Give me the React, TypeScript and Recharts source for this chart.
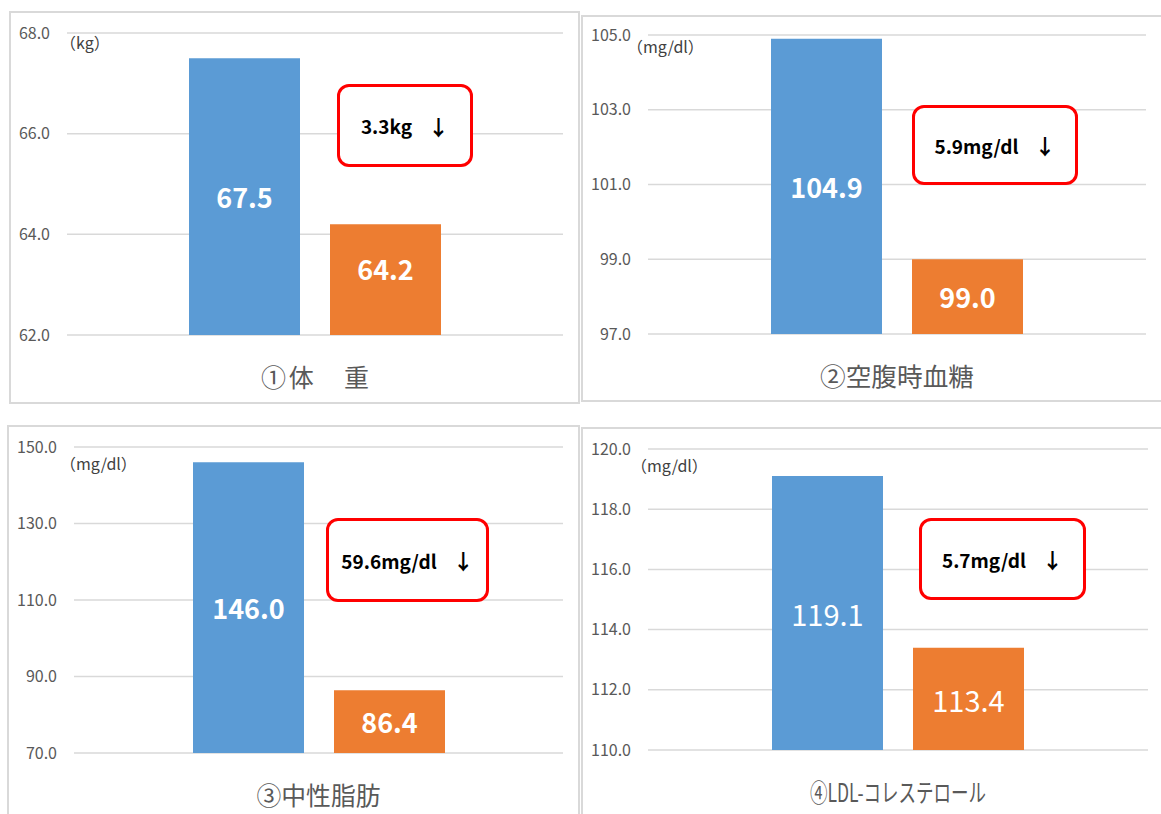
import { BarChart, Bar, XAxis, YAxis, CartesianGrid, LabelList } from 'recharts';

// values
const panelTitles = ['①体　重', '②空腹時血糖', '③中性脂肪', '④LDL-コレステロール'];
const beforeValues = [67.5, 104.9, 146.0, 119.1];
const afterValues = [64.2, 99.0, 86.4, 113.4];
const unitLabels = ['（kg）', '（mg/dl）', '（mg/dl）', '（mg/dl）'];
const changeLabels = ['3.3kg', '5.9mg/dl', '59.6mg/dl', '5.7mg/dl'];
const yTicks = [
  [62, 64, 66, 68],
  [97, 99, 101, 103, 105],
  [70, 90, 110, 130, 150],
  [110, 112, 114, 116, 118, 120],
];

const BLUE = '#5B9BD5';
const ORANGE = '#ED7D31';
const FONT = '"Noto Sans CJK JP", "Noto Sans", sans-serif';

// page layout (plot rectangles, frames, callout boxes)
const layout = [
  {
    plot: { l: 67, t: 33, r: 563, b: 335 },
    frame: { l: 9, t: 11, w: 571, h: 393 },
    box: { l: 337, t: 84, r: 473, b: 167 },
    unit: { l: 60, t: 30 },
    titleW: 108,
    titleAdjust: 'spacing',
    boldLabels: true,
    afterDy: -11,
  },
  {
    plot: { l: 648, t: 35, r: 1146, b: 334 },
    frame: { l: 581, t: 15, w: 600, h: 387 },
    box: { l: 912, t: 105, r: 1078, b: 185 },
    unit: { l: 627, t: 34 },
    titleW: 154,
    titleAdjust: 'spacingAndGlyphs',
    boldLabels: true,
    afterDy: 0,
  },
  {
    plot: { l: 74, t: 447, r: 563, b: 753 },
    frame: { l: 7, t: 425, w: 573, h: 400 },
    box: { l: 326, t: 518, r: 489, b: 602 },
    unit: { l: 60, t: 451 },
    titleW: 124,
    titleAdjust: 'spacingAndGlyphs',
    boldLabels: true,
    afterDy: 0,
  },
  {
    plot: { l: 648, t: 449, r: 1148, b: 750 },
    frame: { l: 581, t: 427, w: 600, h: 400 },
    box: { l: 919, t: 518, r: 1086, b: 600 },
    unit: { l: 631, t: 453 },
    titleW: 176,
    titleAdjust: 'spacingAndGlyphs',
    boldLabels: false,
    afterDy: 0,
  },
];

const YW = 60;
const TOP = 15;
const XH = 70;

function TitleTick(props: any) {
  const { x, y, payload, titleW, titleAdjust } = props;
  return (
    <text
      x={x}
      y={y + 41}
      textAnchor="middle"
      dominantBaseline="central"
      fill="#595959"
      fontSize={25}
      fontFamily={FONT}
      textLength={titleW}
      lengthAdjust={titleAdjust}
    >
      {payload.value}
    </text>
  );
}

// value label centred in the bar, with an optional vertical nudge
function barLabel(style: any, dy: number) {
  return (props: any) => {
    const { x, y, width, height, value } = props;
    return (
      <text
        x={x + width / 2}
        y={y + height / 2 + dy}
        textAnchor="middle"
        dominantBaseline="central"
        {...style}
      >
        {Number(value).toFixed(1)}
      </text>
    );
  };
}

function Panel({ i }: { i: number }) {
  const L = layout[i];
  const { plot, frame, box, unit } = L;
  const ticks = yTicks[i];
  const data = [{ name: panelTitles[i], before: beforeValues[i], after: afterValues[i] }];
  const width = plot.r - plot.l + YW + 10;
  const height = plot.b - plot.t + TOP + XH;
  const labelStyle = {
    fill: '#FFFFFF',
    fontSize: L.boldLabels ? 27 : 29,
    fontWeight: L.boldLabels ? 700 : 400,
    fontFamily: FONT,
  };

  return (
    <>
      <div
        style={{
          position: 'absolute',
          left: frame.l,
          top: frame.t,
          width: frame.w,
          height: frame.h,
          border: '2px solid #D9D9D9',
          boxSizing: 'border-box',
          background: '#fff',
        }}
      />
      <div style={{ position: 'absolute', left: plot.l - YW, top: plot.t - TOP }}>
        <BarChart
          width={width}
          height={height}
          data={data}
          margin={{ top: TOP, right: 10, bottom: 0, left: 0 }}
          barSize={111}
          barGap={30}
        >
          <CartesianGrid vertical={false} stroke="#D9D9D9" strokeWidth={1.5} />
          <XAxis
            dataKey="name"
            height={XH}
            axisLine={false}
            tickLine={false}
            tickSize={0}
            tickMargin={0}
            tick={<TitleTick titleW={L.titleW} titleAdjust={L.titleAdjust} />}
          />
          <YAxis
            width={YW}
            type="number"
            domain={[ticks[0], ticks[ticks.length - 1]]}
            ticks={ticks}
            allowDataOverflow
            axisLine={false}
            tickLine={false}
            tickSize={0}
            tickMargin={17}
            tickFormatter={(v: number) => v.toFixed(1)}
            tick={{ fill: '#595959', fontSize: 16, fontFamily: FONT }}
          />
          <Bar dataKey="before" fill={BLUE} isAnimationActive={false}>
            <LabelList dataKey="before" content={barLabel(labelStyle, 0)} />
          </Bar>
          <Bar dataKey="after" fill={ORANGE} isAnimationActive={false}>
            <LabelList dataKey="after" content={barLabel(labelStyle, L.afterDy)} />
          </Bar>
        </BarChart>
      </div>
      <div
        style={{
          position: 'absolute',
          left: unit.l,
          top: unit.t,
          fontSize: 16,
          fontFamily: FONT,
          color: '#404040',
          whiteSpace: 'nowrap',
        }}
      >
        {unitLabels[i]}
      </div>
      <div
        style={{
          position: 'absolute',
          left: box.l,
          top: box.t,
          width: box.r - box.l,
          height: box.b - box.t,
          border: '3px solid #FF0000',
          borderRadius: 12,
          boxSizing: 'border-box',
          background: '#fff',
          display: 'flex',
          alignItems: 'center',
          justifyContent: 'center',
          fontFamily: FONT,
          fontWeight: 700,
          fontSize: 19,
          color: '#000',
        }}
      >
        <span>{changeLabels[i]}</span>
        <span style={{ marginLeft: 16, fontSize: 21 }}>↓</span>
      </div>
    </>
  );
}

export default function App() {
  return (
    <div style={{ position: 'absolute', left: 0, top: 0, width: 1161, height: 814, overflow: 'hidden', background: '#fff' }}>
      {panelTitles.map((_, i) => (
        <Panel key={i} i={i} />
      ))}
    </div>
  );
}
